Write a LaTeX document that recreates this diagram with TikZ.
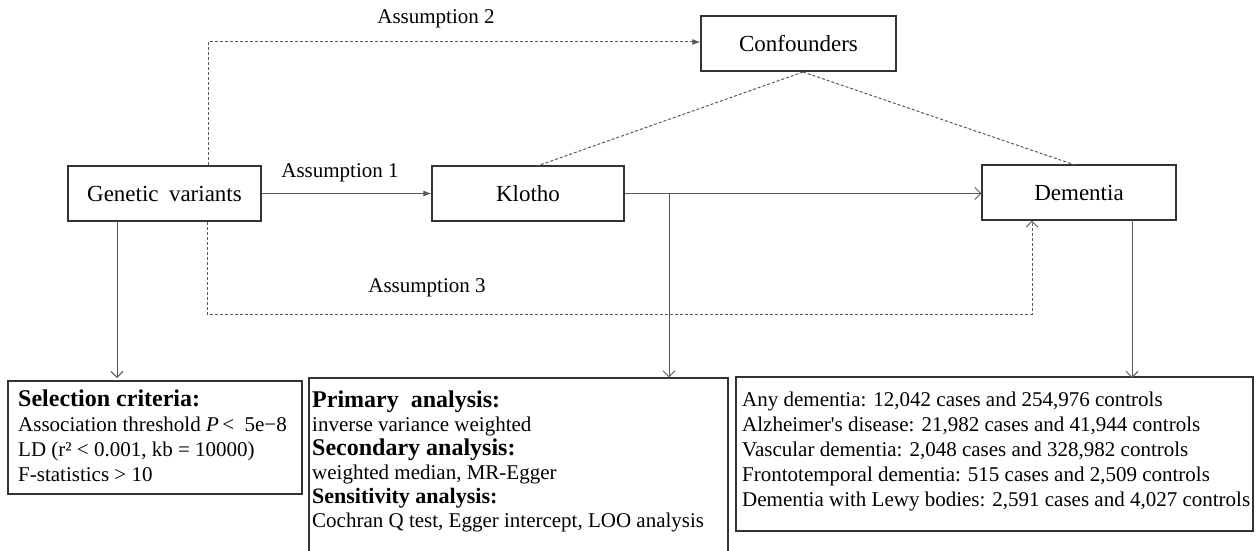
\documentclass[tikz,border=0pt]{standalone}
\usepackage{fontspec}
\setmainfont{Liberation Serif}
\usetikzlibrary{arrows.meta}
\begin{document}
\begin{tikzpicture}[x=1pt,y=-1pt,
  mainbox/.style={draw=black!80, line width=1.2pt, minimum height=55pt, inner sep=0pt, font=\fontsize{23}{25}\selectfont},
  infobox/.style={draw=black!80, line width=1.2pt, inner sep=0pt},
  conn/.style={draw=black!65, line width=1pt},
  dashconn/.style={draw=black!65, line width=1pt, dash pattern=on 3pt off 2pt},
  filledtip/.style={-{Latex[length=8pt,width=6pt]}},
  opentip/.style={-{Straight Barb[length=6pt,width=12pt,line width=0.9pt]}},
  lbl/.style={font=\fontsize{21}{23}\selectfont, inner sep=0pt},
  infotext/.style={anchor=base west, align=left, inner sep=0pt, font=\fontsize{21}{25}\selectfont}
]
\useasboundingbox[fill=white] (0,0) rectangle (1256,551);

% main nodes
\node[mainbox, minimum width=193pt] (gv) at (164.5,193.5) {Genetic\hspace{0.45em}variants};
\node[mainbox, minimum width=192pt] (kl) at (528,193.5) {Klotho};
\node[mainbox, minimum width=195pt] (cf) at (798.5,43.5) {Confounders};
\node[mainbox, minimum width=194pt] (de) at (1079,192.5) {Dementia};

% info boxes
\node[infobox, minimum width=294pt, minimum height=113pt] (selbox) at (155,437.5) {};
\node[infobox, minimum width=419pt, minimum height=190pt] (pribox) at (518.5,473) {};
\node[infobox, minimum width=517pt, minimum height=154pt] (datbox) at (994.5,454) {};

% (base anchor = last line's baseline)
\node[infotext] (seltext) at (18,481) {{\fontsize{24}{25}\selectfont\bfseries Selection criteria:}\\
Association threshold \textit{P}\,<\ \ 5e−8\\
LD (r² < 0.001, kb = 10000)\\
F-statistics > 10};

\node[infotext, font=\fontsize{21}{24}\selectfont] (pritext) at (312,527) {{\fontsize{24}{24}\selectfont\bfseries Primary\hspace{0.5em}analysis:}\\
inverse variance weighted\\
{\fontsize{24}{24}\selectfont\bfseries Secondary analysis:}\\
weighted median, MR-Egger\\
{\fontsize{22}{24}\selectfont\bfseries Sensitivity analysis:}\\
Cochran Q test, Egger intercept, LOO analysis};

\node[infotext] (dattext) at (742,506) {Any dementia: 12,042 cases and 254,976 controls\\
Alzheimer\textquotesingle s disease: 21,982 cases and 41,944 controls\\
Vascular dementia: 2,048 cases and 328,982 controls\\
Frontotemporal dementia: 515 cases and 2,509 controls\\
Dementia with Lewy bodies: 2,591 cases and 4,027 controls};

% labels
\node[lbl] (a1) at (340,173) {Assumption 1};
\node[lbl] (a2) at (436,19) {Assumption 2};
\node[lbl] (a3) at (427,288) {Assumption 3};

% coordinates
\coordinate (apex) at (803,72);
\coordinate (a2corner) at (208,42);
\coordinate (a3c1) at (207,314);
\coordinate (a3c2) at (1032,314);
\coordinate (klbr) at (669,193.5);

% connectors
\draw[conn, filledtip] (gv.east) -- (kl.west);
\draw[conn, opentip] (kl.east) -- (kl.east -| de.west);
\draw[dashconn, filledtip] (gv.north -| a2corner) -- (a2corner) -- (cf.west |- a2corner);
\draw[dashconn] (apex) -- (537,166);
\draw[dashconn] (apex) -- (1075,165);
\draw[dashconn, opentip] (gv.south -| a3c1) -- (a3c1) -- (a3c2) -- (de.south -| a3c2);
\draw[conn, opentip] (117,221) -- (117,378);
\draw[conn, opentip] (klbr) -- (klbr |- pribox.north);
\draw[conn, opentip] (1132,220) -- (1132,378);
\end{tikzpicture}
\end{document}
